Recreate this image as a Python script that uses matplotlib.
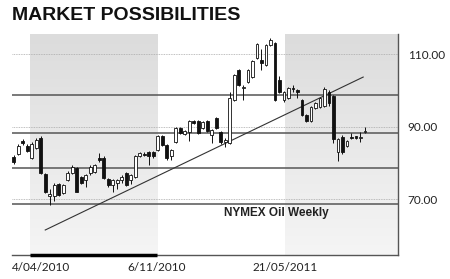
import numpy as np
import matplotlib
matplotlib.use('Agg')
import matplotlib.pyplot as plt

# weekly candles (index 0 = first week shown)
opens = [81.7, 82.5, 86.1, 84.7, 81.4, 84.2, 86.8, 76.9, 71.0, 70.8,
         74.2, 71.8, 75.3, 77.2, 78.6, 76.2, 75.3, 77.2, 77.5, 81.5,
         81.5, 75.5, 73.9, 74.4, 75.3, 77.2, 75.3, 76.2, 81.9, 82.6,
         83.1, 83.0, 83.6, 87.5, 85.0, 81.8, 85.9, 89.6, 88.0, 88.6,
         91.6, 91.6, 89.6, 91.6, 87.7, 92.3, 88.6, 85.7, 85.4, 97.4,
         105.7, 100.6, 102.4, 103.8, 108.9, 108.5, 107.0, 112.6, 113.0, 102.9,
         97.4, 97.9, 100.7, 100.0, 97.4, 93.3, 91.6, 95.3, 95.5, 95.8,
         99.5, 98.5, 82.9, 87.2, 84.7, 87.1, 87.3, 86.8, 88.6]
highs = [82.2, 85.2, 86.7, 85.1, 85.8, 86.8, 87.3, 77.2, 72.8, 74.4,
         74.6, 74.3, 77.7, 79.3, 78.9, 76.5, 77.0, 79.3, 79.6, 82.8,
         81.8, 75.9, 75.7, 75.6, 76.8, 77.6, 77.0, 82.1, 83.1, 82.9,
         83.4, 83.3, 87.6, 87.8, 85.3, 83.9, 89.9, 89.9, 89.2, 91.9,
         91.9, 91.9, 91.5, 91.9, 89.4, 92.6, 88.9, 86.8, 99.5, 104.6,
         106.0, 101.5, 106.0, 108.3, 113.1, 111.5, 112.9, 114.5, 113.5, 103.9,
         99.9, 100.9, 101.5, 100.5, 97.7, 93.6, 95.8, 96.9, 98.1, 100.9,
         100.2, 98.8, 87.0, 87.8, 86.3, 88.2, 87.5, 88.6, 90.0]
lows = [79.8, 82.2, 85.0, 83.0, 81.0, 83.8, 77.0, 71.8, 68.4, 69.6,
        70.9, 71.5, 75.0, 76.9, 71.9, 74.2, 73.5, 76.8, 77.2, 80.3,
        75.5, 73.4, 72.0, 72.8, 74.6, 73.6, 74.3, 75.9, 81.6, 81.9,
        79.5, 81.5, 83.3, 84.7, 80.9, 80.8, 85.6, 88.0, 87.7, 86.0,
        90.8, 87.9, 89.3, 88.6, 85.5, 89.3, 85.3, 84.5, 85.1, 97.1,
        101.2, 97.4, 102.1, 103.5, 108.6, 105.6, 106.7, 112.3, 97.0, 99.4,
        96.8, 97.6, 99.6, 98.0, 93.0, 91.3, 91.3, 95.0, 95.2, 95.5,
        95.7, 85.5, 80.5, 82.5, 84.4, 86.5, 86.6, 85.9, 88.2]
closes = [80.3, 84.8, 85.5, 83.4, 85.3, 86.4, 77.2, 72.1, 71.3, 74.0,
          71.2, 73.9, 77.3, 79.0, 72.1, 74.5, 76.7, 79.0, 79.3, 80.7,
          75.8, 73.9, 75.3, 75.3, 76.2, 73.9, 76.7, 81.8, 82.8, 82.3,
          81.8, 81.8, 87.3, 85.0, 81.3, 83.6, 89.6, 88.3, 88.8, 91.6,
          91.1, 88.2, 91.2, 88.9, 89.1, 89.6, 85.9, 86.4, 97.9, 104.3,
          101.5, 101.0, 105.7, 108.0, 112.8, 107.6, 112.6, 113.9, 97.4, 99.7,
          99.6, 100.6, 100.5, 99.5, 93.3, 91.6, 95.5, 96.6, 97.8, 100.5,
          96.5, 86.7, 86.6, 82.9, 86.0, 86.9, 87.0, 87.0, 88.7]

weeks = np.arange(len(opens))

level_lines = [98.8, 88.2, 78.5, 68.6]
grid_levels = [70, 90, 110]
ytick_labels = ['70.00', '90.00', '110.00']

trend_x = [7.0, 77.6]
trend_y = [61.5, 103.7]

tick_pos = [3.6, 31.8, 60.2]
tick_labels = ['4/04/2010', '6/11/2010', '21/05/2011']
shade_spans = [(3.6, 31.8), (60.2, 85.33)]

x_lo, x_hi = -0.38, 85.33
y_lo, y_hi = 54.6, 115.5

fig = plt.figure(figsize=(4.5, 2.79), dpi=100)
ax = fig.add_axes([12/450, 24/279, 386/450, 220.7/279])
ax.set_xlim(x_lo, x_hi)
ax.set_ylim(y_lo, y_hi)

# gradient shading
grad = np.linspace(0, 1, 100).reshape(-1, 1)
cmap = matplotlib.colors.LinearSegmentedColormap.from_list('g', ['#dcdcdc', '#f5f5f5'])
for a, b in shade_spans:
    ax.imshow(grad, extent=[a, b, y_lo, y_hi], aspect='auto', cmap=cmap,
              origin='upper', zorder=0)

for g in grid_levels:
    ax.axhline(g, color='#aaaaaa', lw=0.6, ls=(0, (1, 1)), zorder=1)
for lv in level_lines:
    ax.axhline(lv, color='#555555', lw=1.1, zorder=1)

ax.plot(trend_x, trend_y, color='#333333', lw=0.8, zorder=2)

w = 0.62
for i in weeks:
    o, h, l, c = opens[i], highs[i], lows[i], closes[i]
    ax.vlines(i, l, h, color='#111111', lw=0.7, zorder=3)
    lo_b, hi_b = min(o, c), max(o, c)
    face = 'white' if c >= o else '#111111'
    ax.bar(i, max(hi_b - lo_b, 0.25), bottom=lo_b, width=w, color=face,
           edgecolor='#111111', linewidth=0.6, zorder=4)

ax.text(58.2, 66.2, 'NYMEX Oil Weekly', ha='center', va='center',
        fontsize=8.5, fontweight='bold', color='#222222', family='Liberation Sans')

for s in ['left', 'top']:
    ax.spines[s].set_visible(False)
ax.spines['right'].set_color('#555555')
ax.spines['right'].set_linewidth(1.0)
ax.spines['bottom'].set_color('#555555')
ax.spines['bottom'].set_linewidth(1.0)
ax.plot([shade_spans[0][0], shade_spans[0][1]], [y_lo, y_lo], color='black',
        lw=2.5, clip_on=False, zorder=5, solid_capstyle='butt')

ax.yaxis.tick_right()
ax.set_yticks(grid_levels)
ax.set_yticklabels(ytick_labels)
ax.set_xticks([x_lo] + tick_pos[1:])
ax.set_xticklabels(tick_labels)
ax.get_xticklabels()[0].set_ha('left')
ax.tick_params(length=0, labelsize=8.5, colors='#222222')
ax.tick_params(axis='y', pad=7)
ax.tick_params(axis='x', pad=5)
for t in ax.get_xticklabels() + ax.get_yticklabels():
    t.set_family('Lato')

fig.text(12/450, 1 - 7/279, 'MARKET POSSIBILITIES', ha='left', va='top',
         fontsize=14, fontweight='heavy', family='Liberation Sans', color='#111111')

fig.savefig('out.png', dpi=100)
